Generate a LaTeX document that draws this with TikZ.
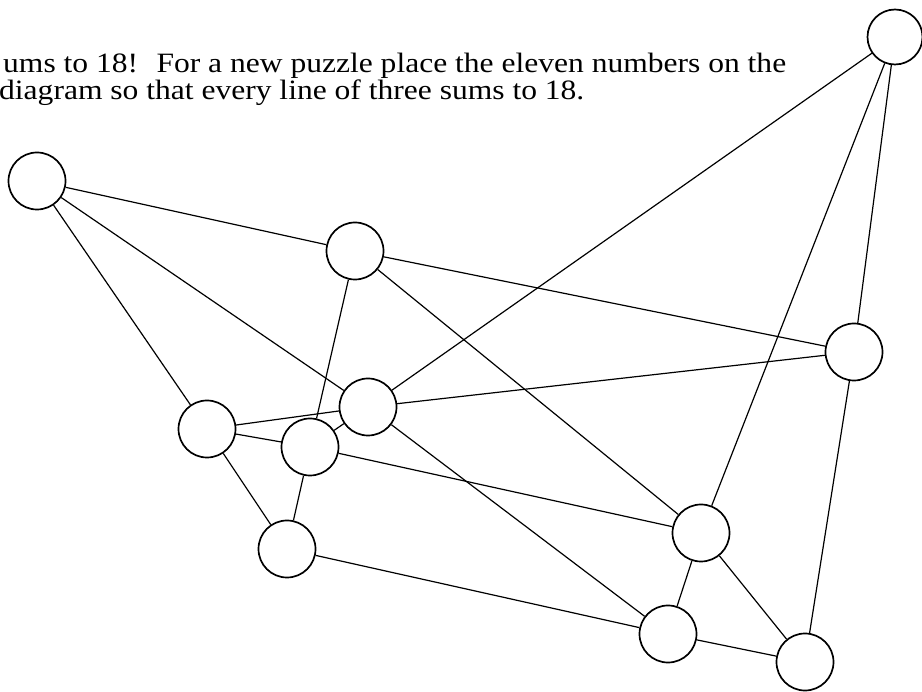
\documentclass[tikz,border=0pt]{standalone}
\usepackage{fontspec}
\setmainfont{Liberation Serif}
\usepackage{graphicx}
\newlength{\lineonewd}
\newcommand{\captionone}{ums to 18!\hspace{0.25em} For a new puzzle place the eleven numbers on the}
\begin{document}
\settowidth{\lineonewd}{\fontsize{28}{32}\selectfont\captionone}%
\pgfmathsetmacro{\sx}{783/\lineonewd}%
\begin{tikzpicture}[x=1pt,y=-1pt,
  spot/.style={circle,draw,line width=1.7pt,inner sep=0pt,minimum size=57pt},
  link/.style={line width=1.2pt},
  caption/.style={anchor=base west,inner sep=0pt,font=\fontsize{28}{32}\selectfont}]
\useasboundingbox (0,0) rectangle (922,692);
\node[caption] (t1) at (3,73) {\scalebox{\sx}[1]{\captionone}};
\node[caption] (t2) at (-1,100) {\scalebox{\sx}[1]{diagram so that every line of three sums to 18.}};
% circles
\node[spot] (A) at (37,181) {};
\node[spot] (B) at (355,251) {};
\node[spot,minimum size=55pt] (C) at (895,37) {};
\node[spot] (D) at (854,352) {};
\node[spot] (E) at (207,429) {};
\node[spot] (F) at (368,407) {};
\node[spot] (G) at (310,447) {};
\node[spot] (H) at (287,549) {};
\node[spot] (I) at (701,533) {};
\node[spot] (J) at (668,634) {};
\node[spot] (K) at (805,662) {};
% lines
\draw[link] (A) -- (B);
\draw[link] (B) -- (D);
\draw[link] (A) -- (F);
\draw[link] (F) -- (J);
\draw[link] (A) -- (E);
\draw[link] (E) -- (H);
\draw[link] (B) -- (G);
\draw[link] (G) -- (H);
\draw[link] (E) -- (F);
\draw[link] (F) -- (D);
\draw[link] (E) -- (G);
\draw[link] (G) -- (I);
\draw[link] (C) -- (F);
\draw[link] (F) -- (G);
\draw[link] (H) -- (J);
\draw[link] (J) -- (K);
\draw[link] (C) -- (I);
\draw[link] (I) -- (J);
\draw[link] (C) -- (D);
\draw[link] (D) -- (K);
\draw[link] (I) -- (K);
\draw[link] (B) -- (I);
\end{tikzpicture}
\end{document}
